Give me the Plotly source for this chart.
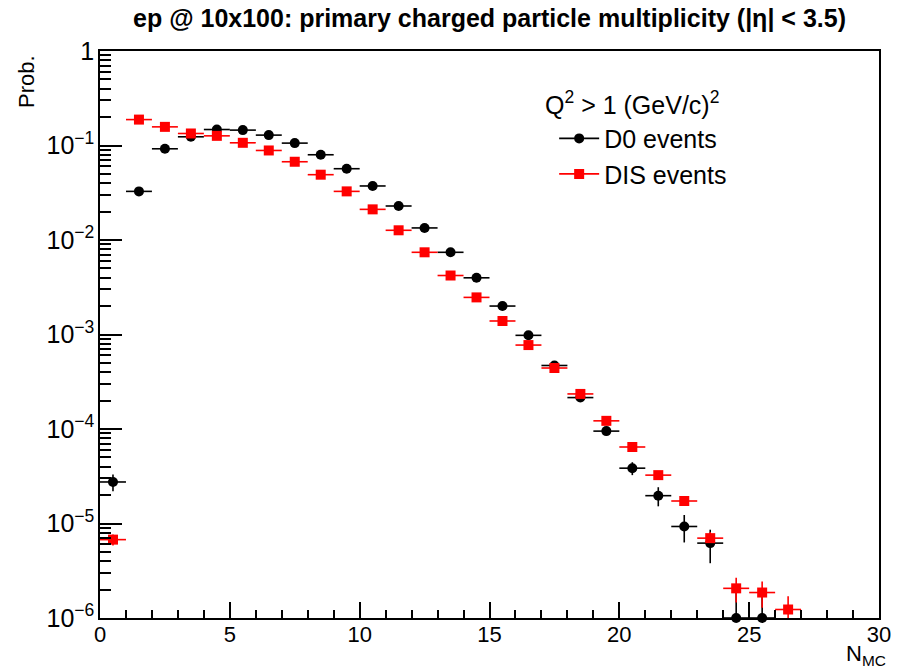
import plotly.graph_objects as go

# ---------------- data ----------------
x_d0 = [0.5 + i for i in range(26)]
d0_prob = [2.75e-5, 0.0327, 0.0923, 0.1236, 0.1476, 0.1455, 0.1288, 0.106, 0.0798, 0.0568,
           0.0373, 0.0229, 0.01342, 0.00741, 0.00398, 0.0020, 0.00098, 4.7e-4, 2.15e-4, 9.5e-5,
           3.85e-5, 1.97e-5, 9.3e-6, 6.2e-6, 1.0e-6, 1.0e-6]
d0_err = [5.5e-6, 1.75e-4, 2.95e-4, 3.4e-4, 3.7e-4, 3.7e-4, 3.5e-4, 3.2e-4, 2.7e-4, 2.3e-4,
          1.9e-4, 1.5e-4, 1.1e-4, 8.3e-5, 6.1e-5, 4.3e-5, 3.0e-5, 2.1e-5, 1.4e-5, 9.5e-6,
          6.0e-6, 4.5e-6, 3.0e-6, 2.4e-6, 1.0e-6, 1.0e-6]

x_dis = [0.5 + i for i in range(27)]
dis_prob = [6.75e-6, 0.188, 0.1575, 0.134, 0.1265, 0.1068, 0.0886, 0.0673, 0.0491, 0.0327,
            0.0211, 0.01267, 0.00741, 0.00421, 0.00247, 0.00139, 7.73e-4, 4.42e-4, 2.35e-4, 1.22e-4,
            6.45e-5, 3.25e-5, 1.73e-5, 7.0e-6, 2.06e-6, 1.86e-6, 1.23e-6]
dis_err = [0.9e-6, 1.8e-4, 1.7e-4, 1.55e-4, 1.5e-4, 1.4e-4, 1.25e-4, 1.1e-4, 9.4e-5, 7.7e-5,
           6.2e-5, 4.8e-5, 3.7e-5, 2.8e-5, 2.1e-5, 1.6e-5, 1.2e-5, 8.9e-6, 6.5e-6, 4.7e-6,
           3.4e-6, 2.4e-6, 1.8e-6, 1.1e-6, 0.6e-6, 0.58e-6, 0.47e-6]

bin_half_width = 0.5

title_text = "<b>ep @ 10x100: primary charged particle multiplicity (|η| < 3.5)</b>"
legend_header = "Q<sup>2</sup> > 1 (GeV/c)<sup>2</sup>"
series_names = ["D0 events", "DIS events"]

FONT = "Liberation Sans, Arial, Helvetica, sans-serif"
RED = "#ff0000"
BLACK = "#000000"

fig = go.Figure()

# error bars (clipped to the frame)
for xs, ys, es, col in [(x_d0, d0_prob, d0_err, BLACK),
                        (x_dis, dis_prob, dis_err, RED)]:
    fig.add_trace(go.Scatter(
        x=xs, y=ys, mode="markers",
        marker=dict(size=1, color=col, opacity=0),
        error_x=dict(type="constant", value=bin_half_width, color=col, thickness=1.6, width=0),
        error_y=dict(type="data", array=es, color=col, thickness=1.6, width=0),
        showlegend=False, hoverinfo="skip", cliponaxis=True))

# markers (not clipped so that points sitting on the bottom edge show fully)
fig.add_trace(go.Scatter(x=x_d0, y=d0_prob, mode="markers",
                         marker=dict(symbol="circle", size=10, color=BLACK),
                         showlegend=False, cliponaxis=False))
fig.add_trace(go.Scatter(x=x_dis, y=dis_prob, mode="markers",
                         marker=dict(symbol="square", size=10, color=RED),
                         showlegend=False, cliponaxis=False))

# legend entries
fig.add_trace(go.Scatter(x=[None], y=[None], mode="lines+markers", name=series_names[0],
                         line=dict(color=BLACK, width=1.6),
                         marker=dict(symbol="circle", size=10, color=BLACK),
                         legendgroup="a"))
fig.add_trace(go.Scatter(x=[None], y=[None], mode="lines+markers", name=series_names[1],
                         line=dict(color=RED, width=1.6),
                         marker=dict(symbol="square", size=10, color=RED),
                         legendgroup="b"))

fig.update_layout(
    width=903, height=672,
    margin=dict(l=100, r=15, t=51, b=54),
    paper_bgcolor="white", plot_bgcolor="white",
    font=dict(family=FONT, size=20, color="black"),
    title=dict(text=title_text, x=0.5, xref="paper", y=1 - 18 / 672, yref="container",
               xanchor="center", yanchor="middle", font=dict(size=25, family=FONT)),
    showlegend=True,
    legend=dict(x=0.583, y=0.886, xanchor="left", yanchor="top",
                bgcolor="rgba(0,0,0,0)", font=dict(size=25, family=FONT),
                tracegroupgap=0, itemwidth=40),
    xaxis=dict(range=[0, 30], showline=True, linecolor="black", linewidth=1.5, mirror=True,
               showgrid=False, zeroline=False,
               ticks="inside", ticklen=16, tickwidth=1.5, tickcolor="black",
               tick0=0, dtick=5, tickfont=dict(size=22), ticklabelstandoff=-4,
               minor=dict(ticks="inside", ticklen=8, tickwidth=1.5, tickcolor="black",
                          dtick=1, showgrid=False)),
    yaxis=dict(type="log", range=[-6, 0], showline=True, linecolor="black", linewidth=1.5,
               mirror=True, showgrid=False, zeroline=False,
               ticks="inside", ticklen=22, tickwidth=1.5, tickcolor="black",
               dtick=1, exponentformat="power", tickfont=dict(size=20),
               minor=dict(ticks="inside", ticklen=11, tickwidth=1.5, tickcolor="black",
                          showgrid=False)),
    annotations=[
        dict(text="Prob.", textangle=-90, xref="paper", yref="paper",
             x=-0.095, y=0.947, xanchor="center", yanchor="middle",
             showarrow=False, font=dict(size=22)),
        dict(text="N<sub>MC</sub>", xref="paper", yref="paper",
             x=1.012, y=-0.066, xanchor="right", yanchor="middle",
             showarrow=False, font=dict(size=22)),
        dict(text=legend_header, xref="paper", yref="paper",
             x=0.5685, y=0.908, xanchor="left", yanchor="middle",
             showarrow=False, font=dict(size=25)),
    ],
)

fig.write_html("out.html")
